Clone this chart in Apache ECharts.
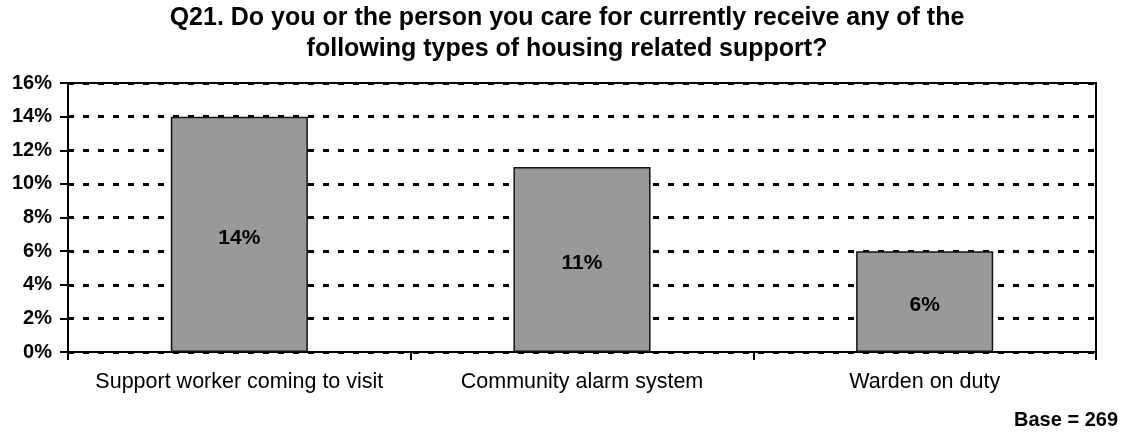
<!DOCTYPE html>
<html>
<head>
<meta charset="utf-8">
<script src="https://cdn.jsdelivr.net/npm/echarts@6/dist/echarts.min.js"></script>
<style>
  html, body { margin: 0; padding: 0; background: #fff; }
  #chart { width: 1131px; height: 432px; }
</style>
</head>
<body>
<div id="chart"></div>
<script>
// Housing related support received (share of respondents, %)
const categories = ['Support worker coming to visit', 'Community alarm system', 'Warden on duty'];
const shares = [14, 11, 6];
const yTicks = { min: 0, max: 16, interval: 2 };
const titleText = 'Q21. Do you or the person you care for currently receive any of the\nfollowing types of housing related support?';
const baseNote = 'Base = 269';

const FONT = '"Liberation Sans", Arial, Helvetica, sans-serif';

const chart = echarts.init(document.getElementById('chart'), null, { renderer: 'canvas' });

chart.setOption({
  backgroundColor: '#ffffff',
  animation: false,
  graphic: [{
    // two-line heading, centred over the page
    type: 'text',
    x: 567,
    y: 3,
    style: {
      text: titleText,
      font: 'bold 25px ' + FONT,
      fill: '#000',
      textAlign: 'center',
      textVerticalAlign: 'top',
      lineHeight: 31
    }
  }, {
    type: 'text',
    x: 1118,
    y: 410,
    style: {
      text: baseNote,
      font: 'bold 20px ' + FONT,
      fill: '#000',
      textAlign: 'right',
      textVerticalAlign: 'top'
    }
  }],
  grid: {
    left: 68,
    right: 35,
    top: 83,
    bottom: 80,
    show: true,
    borderColor: '#000',
    borderWidth: 2,
    backgroundColor: 'transparent'
  },
  xAxis: {
    type: 'category',
    data: categories,
    axisLine: { show: true, lineStyle: { color: '#000', width: 2 } },
    axisTick: { show: true, interval: 0, length: 8, lineStyle: { color: '#000', width: 2 } },
    axisLabel: {
      interval: 0,
      fontFamily: FONT,
      fontSize: 21.5,
      color: '#000',
      margin: 19
    },
    splitLine: { show: false }
  },
  yAxis: {
    type: 'value',
    min: yTicks.min,
    max: yTicks.max,
    interval: yTicks.interval,
    axisLine: { show: true, lineStyle: { color: '#000', width: 2 } },
    axisTick: { show: true, length: 8, lineStyle: { color: '#000', width: 2 } },
    axisLabel: {
      fontFamily: FONT,
      fontSize: 20,
      fontWeight: 'bold',
      color: '#000',
      margin: 16,
      formatter: v => v + '%'
    },
    splitLine: {
      show: true,
      lineStyle: { color: '#000', width: 3, type: [6, 9] }
    }
  },
  series: [{
    type: 'bar',
    data: shares,
    barWidth: '40%',
    itemStyle: {
      color: '#999999',
      borderColor: '#111',
      borderWidth: 1.5
    },
    label: {
      show: true,
      position: 'inside',
      offset: [0, 4],
      fontFamily: FONT,
      fontSize: 21,
      fontWeight: 'bold',
      color: '#000',
      formatter: p => p.value + '%'
    }
  }]
});
</script>
</body>
</html>
